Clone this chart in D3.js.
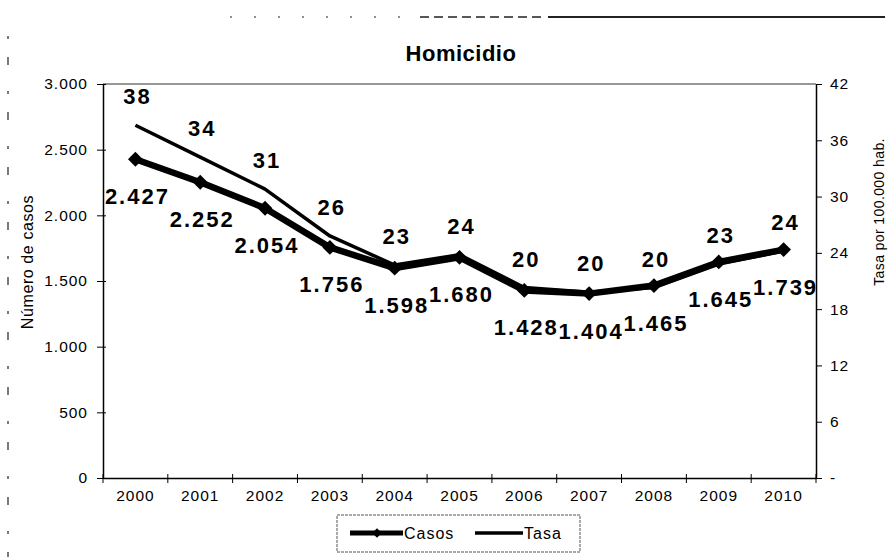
<!DOCTYPE html>
<html>
<head>
<meta charset="utf-8">
<script src="https://cdn.jsdelivr.net/npm/d3@7"></script>
<style>
  body { margin: 0; background: #fff; }
  svg text { font-family: "Liberation Sans", Arial, sans-serif; fill: #000; }
</style>
</head>
<body>
<svg id="chart" width="890" height="557"></svg>
<script>
var years = ["2000","2001","2002","2003","2004","2005","2006","2007","2008","2009","2010"]
var casos = [2427, 2252, 2054, 1756, 1598, 1680, 1428, 1404, 1465, 1645, 1739]
var tasa = [37.6, 34.2, 30.8, 25.8, 22.7, 23.8, 20.3, 19.8, 20.3, 22.8, 24.2]
var casosTicks = [0, 500, 1000, 1500, 2000, 2500, 3000]
var tasaTicks = [0, 6, 12, 18, 24, 30, 36, 42]

var svg = d3.select("#chart")
var plotLeft = 103, plotRight = 816, plotTop = 84, plotBottom = 478

var es = d3.formatLocale({decimal: ",", thousands: ".", grouping: [3], currency: ["", ""]})
var fmtCasos = es.format(",d")
var fmtTasa = d3.format(".0f")

var x = d3.scaleBand().domain(years).range([plotLeft, plotRight])
var yL = d3.scaleLinear().domain([0, 3000]).range([plotBottom, plotTop])
var yR = d3.scaleLinear().domain([0, 42]).range([plotBottom, plotTop])

// scan noise around the page edges
function noise() {
  var g = svg.append("g").attr("stroke", "#222")
  g.append("line").attr("x1", 548).attr("x2", 885).attr("y1", 17).attr("y2", 17).attr("stroke-width", 2)
  g.append("line").attr("x1", 420).attr("x2", 545).attr("y1", 17).attr("y2", 17)
    .attr("stroke-width", 1.5).attr("stroke-dasharray", "9,5")
  g.append("line").attr("x1", 230).attr("x2", 420).attr("y1", 17).attr("y2", 17)
    .attr("stroke-width", 1.2).attr("stroke-dasharray", "2,22")
  g.append("line").attr("x1", 8).attr("x2", 8).attr("y1", 36).attr("y2", 557)
    .attr("stroke-width", 1.2).attr("stroke-dasharray", "3,18,8,26")
}
noise()

svg.append("text").attr("x", 461).attr("y", 61).attr("text-anchor", "middle")
  .style("font-size", "22px").style("font-weight", "bold").style("letter-spacing", "0.5px").text("Homicidio")

// frame
svg.append("line").attr("x1", plotLeft).attr("x2", plotRight).attr("y1", plotTop).attr("y2", plotTop)
  .attr("stroke", "#333").attr("stroke-width", 1.2)

var axL = svg.append("g").attr("transform", "translate(" + plotLeft + ",0)")
  .call(d3.axisLeft(yL).tickValues(casosTicks).tickFormat(fmtCasos).tickSizeInner(6).tickSizeOuter(0).tickPadding(9))
var axR = svg.append("g").attr("transform", "translate(" + plotRight + ",0)")
  .call(d3.axisRight(yR).tickValues(tasaTicks).tickFormat(function(d) { return d == 0 ? "-" : d }).tickSizeInner(6).tickSizeOuter(0).tickPadding(8))
var xTicks = d3.range(years.length + 1).map(function(i) { return plotLeft + i * x.step() })
var axB = svg.append("g").attr("transform", "translate(0," + plotBottom + ")")
  .call(d3.axisBottom(x).tickSize(0).tickPadding(12))
axB.selectAll(".tick-b").data(xTicks).enter().append("line")
  .attr("x1", function(d) { return d }).attr("x2", function(d) { return d })
  .attr("y1", -4).attr("y2", 5).attr("stroke", "#000")

;[axL, axR, axB].forEach(function(a) {
  a.select(".domain").attr("stroke", "#000").attr("stroke-width", 1.5)
  a.selectAll("text").style("font-size", "15.5px").style("letter-spacing", "1px").attr("fill", "#000")
})
axL.selectAll(".tick line").attr("x2", -6).attr("x1", 3)

svg.append("text").attr("transform", "translate(33,262) rotate(-90)").attr("text-anchor", "middle")
  .style("font-size", "16px").style("letter-spacing", "0.6px").text("Número de casos")
svg.append("text").attr("transform", "translate(884,212) rotate(-90)").attr("text-anchor", "middle")
  .style("font-size", "14px").style("letter-spacing", "0.4px").text("Tasa por 100.000 hab.")

function cx(d, i) { return x(years[i]) + x.bandwidth() / 2 }

var lineTasa = d3.line().x(cx).y(function(d) { return yR(d) })
var lineCasos = d3.line().x(cx).y(function(d) { return yL(d) })

svg.append("path").attr("d", lineTasa(tasa)).attr("fill", "none")
  .attr("stroke", "#000").attr("stroke-width", 3.5).attr("stroke-linejoin", "round")
svg.append("path").attr("d", lineCasos(casos)).attr("fill", "none")
  .attr("stroke", "#000").attr("stroke-width", 6.5).attr("stroke-linejoin", "round")

var diamond = d3.symbol().type(d3.symbolSquare).size(110)
svg.selectAll(".mk").data(casos).enter().append("path")
  .attr("d", diamond).attr("fill", "#000")
  .attr("transform", function(d, i) { return "translate(" + cx(d, i) + "," + yL(d) + ") rotate(45)" })

var lblStyle = function(sel) {
  sel.attr("text-anchor", "middle").style("font-size", "22px").style("font-weight", "bold").style("letter-spacing", "2px")
}
svg.selectAll(".lt").data(tasa).enter().append("text").call(lblStyle)
  .attr("x", function(d, i) { return cx(d, i) + 2 })
  .attr("y", function(d) { return yR(d) - 21 })
  .text(function(d) { return fmtTasa(d) })
svg.selectAll(".lc").data(casos).enter().append("text").call(lblStyle)
  .attr("x", function(d, i) { return cx(d, i) + 2 })
  .attr("y", function(d) { return yL(d) + 45 })
  .text(function(d) { return fmtCasos(d) })

// legend
var lg = svg.append("g")
lg.append("rect").attr("x", 337).attr("y", 515).attr("width", 243).attr("height", 37)
  .attr("fill", "none").attr("stroke", "#555").attr("stroke-dasharray", "3,1")
lg.append("line").attr("x1", 350).attr("x2", 403).attr("y1", 533).attr("y2", 533)
  .attr("stroke", "#000").attr("stroke-width", 5)
lg.append("path").attr("d", d3.symbol().type(d3.symbolSquare).size(45)).attr("transform", "translate(377,533) rotate(45)")
lg.append("text").attr("x", 404).attr("y", 539).style("font-size", "16px").style("letter-spacing", "1px").text("Casos")
lg.append("line").attr("x1", 475).attr("x2", 523).attr("y1", 533).attr("y2", 533)
  .attr("stroke", "#000").attr("stroke-width", 3.5)
lg.append("text").attr("x", 524).attr("y", 539).style("font-size", "16px").style("letter-spacing", "1px").text("Tasa")
</script>
</body>
</html>
